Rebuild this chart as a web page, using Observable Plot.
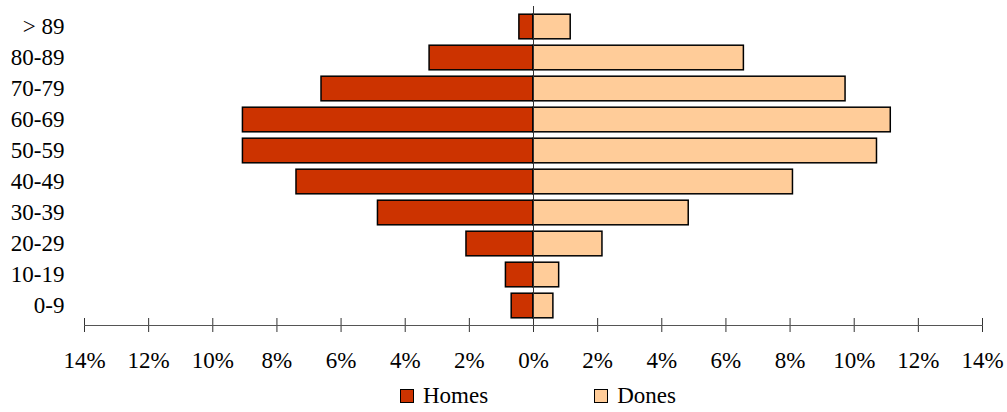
<!DOCTYPE html>
<html><head><meta charset="utf-8">
<script src="https://cdn.jsdelivr.net/npm/d3@7"></script>
<script src="https://cdn.jsdelivr.net/npm/@observablehq/plot@0.6"></script>
<style>
html,body{margin:0;padding:0;background:#fff;}
body{font-family:"Liberation Serif","Times New Roman",serif;color:#000;width:1007px;}
#legend{display:flex;align-items:center;height:32px;padding-left:400px;font-size:23px;}
.item{display:flex;align-items:center;}
.sw{width:12px;height:12px;border:1.5px solid #000;margin-right:9px;}
</style></head>
<body>
<div id="chart"></div>
<div id="legend"></div>
<script>
// Age groups, bottom to top
const ageGroups = ["0-9","10-19","20-29","30-39","40-49","50-59","60-69","70-79","80-89","> 89"];
const homes = [0.68, 0.86, 2.09, 4.85, 7.39, 9.06, 9.06, 6.61, 3.24, 0.44];
const dones = [0.62, 0.80, 2.15, 4.84, 8.09, 10.71, 11.14, 9.73, 6.56, 1.16];
const xTicks = [-14,-12,-10,-8,-6,-4,-2,0,2,4,6,8,10,12,14];
const seriesNames = ["Homes","Dones"];
const seriesColors = ["#CC3300","#FFCC99"];

const data = ageGroups.flatMap((g,i)=>[
  {group:g, sex:"Homes", value:-homes[i]},
  {group:g, sex:"Dones", value:dones[i]}
]);

const chart = Plot.plot({
  width:1007, height:380,
  marginLeft:84, marginRight:25, marginTop:6, marginBottom:55,
  style:{fontFamily:"Liberation Serif, Times New Roman, serif", fontSize:"23px", color:"#000", background:"#fff", overflow:"visible"},
  x:{domain:[-14,14]},
  y:{domain:ageGroups.slice().reverse(), padding:0},
  color:{domain:seriesNames, range:seriesColors},
  marks:[
    Plot.barX(data,{y:"group", x1:0, x2:"value", fill:"sex", stroke:"#000", strokeWidth:1.5, insetTop:3.2, insetBottom:3.2}),
    Plot.ruleX([0],{stroke:"#333", strokeWidth:1}),
    Plot.axisY({tickSize:0, tickPadding:20, label:null, fontSize:23}),
    Plot.axisX({ticks:xTicks, tickSize:14, dy:-7, tickFormat:()=>"", label:null, stroke:"#333"}),
    Plot.axisX({ticks:xTicks, tickSize:0, tickPadding:26, tickFormat:d=>Math.abs(d)+"%", label:null, fontSize:23}),
    Plot.frame({anchor:"bottom", stroke:"#555"})
  ]
});
document.getElementById("chart").append(chart);

const legend = document.getElementById("legend");
seriesNames.forEach((n,i)=>{
  const it = document.createElement("div");
  it.className="item";
  if(i>0) it.style.marginLeft="106px";
  const sw = document.createElement("div");
  sw.className="sw"; sw.style.background=seriesColors[i];
  const t = document.createElement("span"); t.textContent=n;
  it.append(sw,t); legend.append(it);
});
</script>
</body></html>
